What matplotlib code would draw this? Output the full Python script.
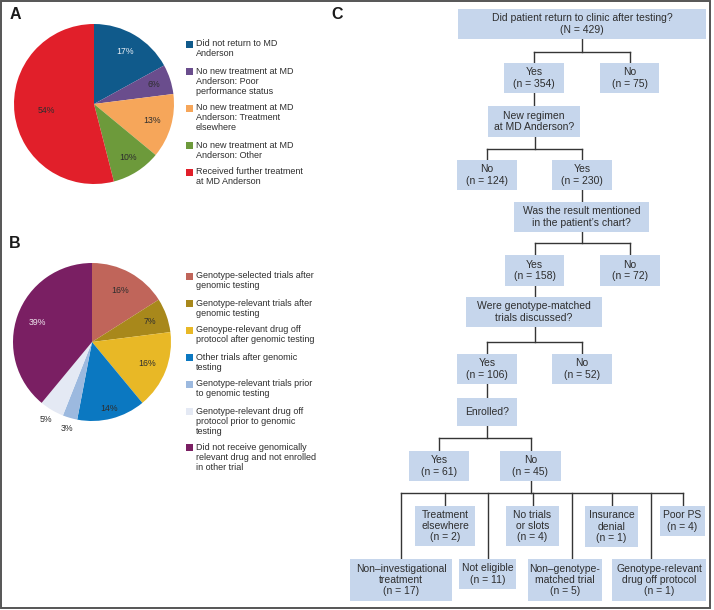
import matplotlib
matplotlib.use("Agg")
import matplotlib.pyplot as plt
from matplotlib.patches import Rectangle
import numpy as np

plt.rcParams['font.family'] = ['Liberation Sans', 'DejaVu Sans']

# ---------------- data ----------------
pieA_labels = ["Did not return to MD\nAnderson",
               "No new treatment at MD\nAnderson: Poor\nperformance status",
               "No new treatment at MD\nAnderson: Treatment\nelsewhere",
               "No new treatment at MD\nAnderson: Other",
               "Received further treatment\nat MD Anderson"]
pieA_values = [17, 6, 13, 10, 54]

pieB_labels = ["Genotype-selected trials after\ngenomic testing",
               "Genotype-relevant trials after\ngenomic testing",
               "Genoype-relevant drug off\nprotocol after genomic testing",
               "Other trials after genomic\ntesting",
               "Genotype-relevant trials prior\nto genomic testing",
               "Genotype-relevant drug off\nprotocol prior to genomic\ntesting",
               "Did not receive genomically\nrelevant drug and not enrolled\nin other trial"]
pieB_values = [16, 7, 16, 14, 3, 5, 39]

flow_text = ["Did patient return to clinic after testing?", "Yes", "No",
             "New regimen\nat MD Anderson?", "No", "Yes",
             "Was the result mentioned\nin the patient\u2019s chart?", "Yes", "No",
             "Were genotype-matched\ntrials discussed?", "Yes", "No",
             "Enrolled?", "Yes", "No",
             "Treatment\nelsewhere", "No trials\nor slots", "Insurance\ndenial", "Poor PS",
             "Non\u2013investigational\ntreatment", "Not eligible",
             "Non\u2013genotype-\nmatched trial", "Genotype-relevant\ndrug off protocol"]
flow_n = [429, 354, 75, None, 124, 230, None, 158, 72, None, 106, 52, None,
          61, 45, 2, 4, 1, 4, 17, 11, 5, 1]

# ---------------- styles / layout ----------------
W, H = 714, 610
TXT = '#2e2e2e'
FS = 6.5      # legend text
FS_FLOW = 7.5 # flowchart text
FS_PCT = 6.3
colorsA = ['#105a8b', '#6a4d8d', '#f6a65a', '#6d9a3b', '#e11f2a']
textcA = ['#e8eef5', TXT, TXT, TXT, TXT]
distA = [0.76, 0.79, 0.75, 0.79, 0.60]
colorsB = ['#c0655a', '#a8881b', '#e8b826', '#0b78c1', '#9cb9df', '#e4e9f4', '#7a1f63']
textcB = [TXT, TXT, TXT, TXT, TXT, TXT, '#efe6ee']
distB = [0.74, 0.78, 0.75, 0.87, 1.14, 1.14, 0.74]
BOX = '#c6d6ec'
LINE = '#353535'

boxes = [(458, 9, 706, 39), (504, 63, 564, 93), (600, 63, 659, 93),
         (488, 106, 580, 137), (457, 160, 517, 190), (552, 160, 612, 190),
         (514, 202, 649, 232), (505, 255, 564, 286), (600, 255, 660, 286),
         (466, 297, 602, 327), (457, 354, 517, 384), (552, 354, 612, 384),
         (457, 398, 517, 426), (409, 451, 469, 481), (500, 451, 561, 481),
         (415, 506, 475, 546), (506, 506, 559, 546), (585, 506, 638, 547),
         (660, 506, 705, 536), (350, 559, 452, 601), (459, 559, 516, 589),
         (528, 559, 602, 601), (612, 559, 706, 601)]
drop_override = {21: 572, 22: 651, 0: 582, 3: 535, 9: 535}
links = [(0, 52, [1, 2]), (1, None, [3]), (3, 149, [4, 5]), (5, None, [6]),
         (6, 243, [7, 8]), (7, None, [9]), (9, 342, [10, 11]), (10, None, [12]),
         (12, 438, [13, 14]), (14, 493, [19, 15, 20, 16, 21, 17, 22, 18])]

fig = plt.figure(figsize=(W / 100, H / 100), dpi=100)
ax = fig.add_axes([0, 0, 1, 1])
ax.set_xlim(0, W)
ax.set_ylim(H, 0)
ax.axis('off')


def px_axes(cx, cy, r):
    return fig.add_axes([(cx - r) / W, (H - cy - r) / H, 2 * r / W, 2 * r / H])


def draw_pie(cx, cy, r, values, colors, tcolors, dists):
    pa = px_axes(cx, cy, r)
    wedges, _ = pa.pie(values, colors=colors, startangle=90, counterclock=False,
                       radius=1, wedgeprops=dict(linewidth=0))
    pa.set_xlim(-1, 1)
    pa.set_ylim(-1, 1)
    pa.set_aspect('equal')
    pa.axis('off')
    for w, v, tc, d in zip(wedges, values, tcolors, dists):
        a = np.deg2rad((w.theta1 + w.theta2) / 2)
        pa.text(d * np.cos(a), d * np.sin(a), f"{v}%", ha='center', va='center',
                fontsize=FS_PCT, color=tc, clip_on=False, zorder=5)


def draw_legend(x, ys, labels, colors):
    for y, lab, c in zip(ys, labels, colors):
        ax.add_patch(Rectangle((x, y - 3.5), 7, 7, facecolor=c, edgecolor='none'))
        for i, line in enumerate(lab.split('\n')):
            ax.text(x + 10, y + i * 10, line, ha='left', va='center',
                    fontsize=FS, color=TXT)


draw_pie(94, 104, 80, pieA_values, colorsA, textcA, distA)
draw_legend(186, [44, 71, 108, 145, 172], pieA_labels, colorsA)
draw_pie(92, 342, 79, pieB_values, colorsB, textcB, distB)
draw_legend(186, [276, 303, 330, 357, 384, 411, 447], pieB_labels, colorsB)

# panel letters
for letter, (x, y) in zip("ABC", [(15, 14.5), (15, 243), (337, 14.5)]):
    ax.text(x, y, letter, ha='center', va='center', fontsize=11.5,
            fontweight='bold', color='#1a1a1a')

# flowchart boxes
for i, (x0, y0, x1, y1) in enumerate(boxes):
    ax.add_patch(Rectangle((x0, y0), x1 - x0, y1 - y0, facecolor=BOX,
                           edgecolor='none', zorder=2))
    lines = flow_text[i].split('\n')
    if flow_n[i] is not None:
        lines.append(f"({'N' if i == 0 else 'n'} = {flow_n[i]})")
    cy = (y0 + y1) / 2
    step = 12 if i == 0 else 11.5
    start = cy - step * (len(lines) - 1) / 2
    for k, line in enumerate(lines):
        ax.text((x0 + x1) / 2, start + k * step, line, ha='center', va='center',
                fontsize=FS_FLOW, color=TXT, zorder=3)


def dropx(i):
    x0, y0, x1, y1 = boxes[i]
    return drop_override.get(i, (x0 + x1) / 2)


lw = 1.0
for p, bus, kids in links:
    px = dropx(p)
    pb = boxes[p][3]
    if bus is None:
        k = kids[0]
        ax.plot([px, px], [pb, boxes[k][1]], color=LINE, lw=lw, zorder=1)
        continue
    ax.plot([px, px], [pb, bus], color=LINE, lw=lw, zorder=1)
    xs = [dropx(k) for k in kids]
    ax.plot([min(xs), max(xs)], [bus, bus], color=LINE, lw=lw, zorder=1,
            solid_capstyle='projecting')
    for k, kx in zip(kids, xs):
        ax.plot([kx, kx], [bus, boxes[k][1]], color=LINE, lw=lw, zorder=1)

# outer frame
ax.add_patch(Rectangle((0.8, 0.8), 709.5, 607.5, facecolor='none',
                       edgecolor='#555555', lw=1.4, zorder=5))

fig.savefig('out.png', dpi=100)
